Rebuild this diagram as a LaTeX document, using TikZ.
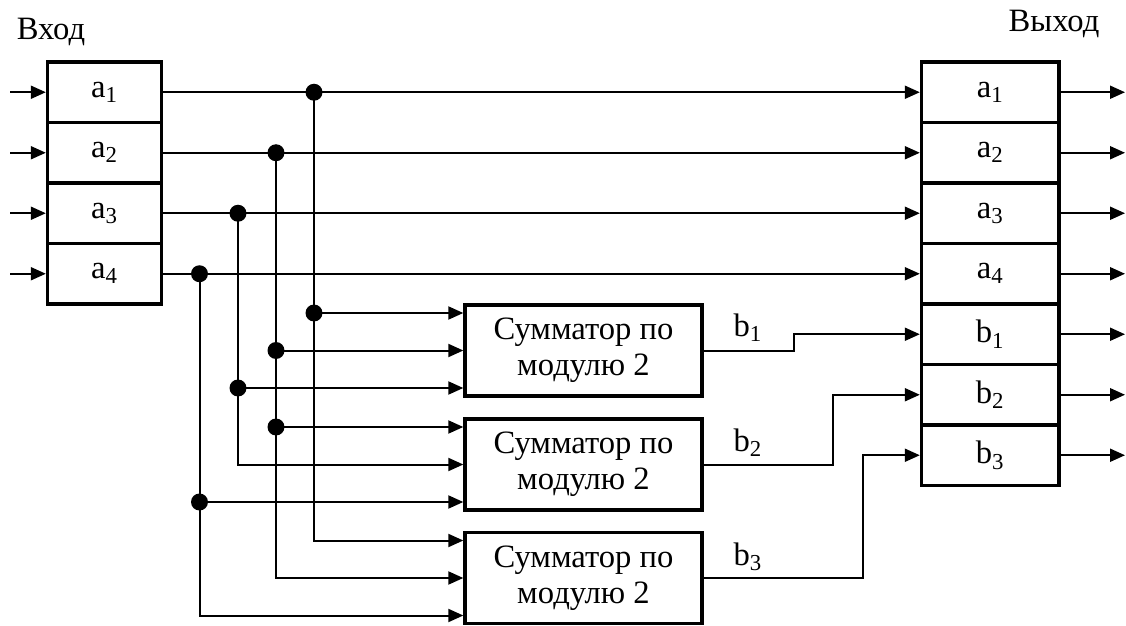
\documentclass[tikz,border=0pt]{standalone}
\usepackage{fontspec}
\setmainfont{Liberation Serif}
\usetikzlibrary{arrows.meta,calc}

\begin{document}
\begin{tikzpicture}[x=0.5pt,y=-0.5pt,
  font=\fontsize{16.3}{18}\selectfont,
  wire/.style={line width=1pt},
  arr/.style={wire,-{Triangle[length=7.5pt,width=6.5pt]}},
  cell/.style={draw,line width=1.7pt,minimum height=30.25pt,inner sep=0pt},
  incell/.style={cell,minimum width=57pt},
  outcell/.style={cell,minimum width=68.75pt},
  adder/.style={draw,line width=1.7pt,minimum width=118.5pt,minimum height=45.5pt,
    align=center,inner sep=0pt},
  junction/.style={circle,fill,inner sep=0pt,minimum size=8.5pt}]
\useasboundingbox (0,0) rectangle (1126,626);

% captions
\node (lin)  at (51,32)   {Вход};
\node (lout) at (1054,24) {Выход};

% input register
\foreach \i in {1,...,4}
  \node[incell] (in\i) at (104.5,{62+60.5*(\i-0.5)}) {a\textsubscript{\i}};

% output register
\foreach \i in {1,...,4}
  \node[outcell] (out\i) at (990.25,{62+60.5*(\i-0.5)}) {a\textsubscript{\i}};
\foreach \i/\k in {1/5,2/6,3/7}
  \node[outcell] (out\k) at (990.25,{62+60.5*(\k-0.5)}) {b\textsubscript{\i}};

% modulo-2 adders
\node[adder] (sum1) at (583.5,350.5) {Сумматор по\\модулю 2};
\node[adder] (sum2) at (583.5,464.5) {Сумматор по\\модулю 2};
\node[adder] (sum3) at (583.5,578)   {Сумматор по\\модулю 2};

% adder input points
\foreach \s in {1,2,3} {
  \coordinate (s\s i1) at ($(sum\s.west)+(0,-37.5)$);
  \coordinate (s\s i2) at (sum\s.west);
  \coordinate (s\s i3) at ($(sum\s.west)+(0,37.5)$);
}

% register inputs and outputs
\foreach \i in {1,...,4} {
  \coordinate (src\i) at (10,{62+60.5*(\i-0.5)});
  \draw[arr] (src\i) -- (in\i.west);
}
\foreach \i in {1,...,7} {
  \coordinate (dst\i) at (1125,{62+60.5*(\i-0.5)});
  \draw[arr] (out\i.east) -- (dst\i);
}

% data lines straight through
\foreach \i in {1,...,4}
  \draw[arr] (in\i.east) -- (out\i.west);

% tap points on the data lines
\coordinate (t1) at (314,0);
\coordinate (t2) at (276,0);
\coordinate (t3) at (238,0);
\coordinate (t4) at (199.5,0);
\foreach \i in {1,...,4}
  \node[junction] (j\i) at (t\i |- in\i.east) {};

% a1 -> adders 1, 3
\draw[arr] (j1.center) |- (s3i1);
\node[junction] (k11) at (t1 |- s1i1) {};
\draw[arr] (k11.center) -- (s1i1);
% a2 -> adders 1, 2, 3
\draw[arr] (j2.center) |- (s3i2);
\node[junction] (k21) at (t2 |- s1i2) {};
\draw[arr] (k21.center) -- (s1i2);
\node[junction] (k22) at (t2 |- s2i1) {};
\draw[arr] (k22.center) -- (s2i1);
% a3 -> adders 1, 2
\draw[arr] (j3.center) |- (s2i2);
\node[junction] (k31) at (t3 |- s1i3) {};
\draw[arr] (k31.center) -- (s1i3);
% a4 -> adders 2, 3
\draw[arr] (j4.center) |- (s3i3);
\node[junction] (k42) at (t4 |- s2i3) {};
\draw[arr] (k42.center) -- (s2i3);

% adder outputs to the check bits
\draw[arr] (sum1.east) -- ++(90.5,0) |- (out5.west);
\draw[arr] (sum2.east) -- ++(129,0) |- (out6.west);
\draw[arr] (sum3.east) -- ++(159,0) |- (out7.west);
\node (lb1) at (748,328) {b\textsubscript{1}};
\node (lb2) at (748,443) {b\textsubscript{2}};
\node (lb3) at (748,557) {b\textsubscript{3}};
\end{tikzpicture}
\end{document}
